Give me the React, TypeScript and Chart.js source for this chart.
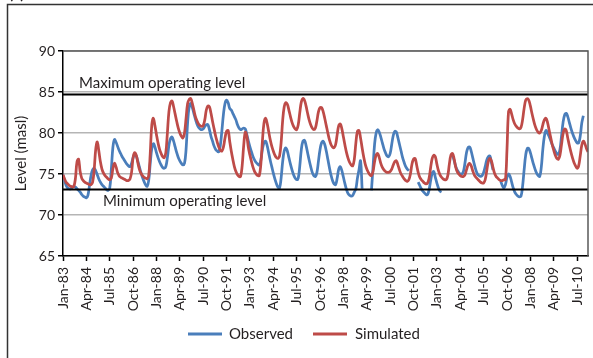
import React, { useEffect, useRef } from "react";
import { Chart, registerables } from "chart.js";

Chart.register(...registerables);

// Tick labels (every 15 months, starting Jan-83)
const xTickLabels = [
  "Jan-83", "Apr-84", "Jul-85", "Oct-86", "Jan-88", "Apr-89", "Jul-90", "Oct-91",
  "Jan-93", "Apr-94", "Jul-95", "Oct-96", "Jan-98", "Apr-99", "Jul-00", "Oct-01",
  "Jan-03", "Apr-04", "Jul-05", "Oct-06", "Jan-08", "Apr-09", "Jul-10",
];
const monthsPerTick = 15;
const yTicks = [65, 70, 75, 80, 85, 90];

const maxOperatingLevel = 84.7;
const minOperatingLevel = 73.2;

// Monthly observed lake level (masl), Jan-83 ... Feb-11 (null = missing)
const observed: (number | null)[] = [
  74.9, 74.2, 73.6, 73.3, 73.2, 73.2, 73.4, 73.5, 73.4, 73.2, 73.0, 72.8,
  72.5, 72.3, 72.2, 72.1, 72.4, 73.6, 74.8, 75.5, 75.7, 75.4, 74.9, 74.4,
  74.0, 73.7, 73.5, 73.3, 73.1, 73.0, 73.3, 75.5, 78.2, 79.2, 78.9, 78.4,
  77.9, 77.5, 77.1, 76.8, 76.5, 76.2, 76.0, 75.9, 76.3, 77.0, 77.4, 77.2,
  76.6, 75.9, 75.2, 74.6, 74.1, 73.7, 73.5, 74.2, 76.3, 78.1, 78.7, 78.3,
  77.6, 77.0, 76.5, 76.1, 75.8, 75.7, 75.9, 77.0, 78.5, 79.3, 79.5, 79.0,
  78.3, 77.6, 77.0, 76.6, 76.3, 76.1, 76.3, 78.0, 81.3, 83.2, 83.6, 83.1,
  82.4, 81.7, 81.1, 80.7, 80.5, 80.4, 80.5, 80.8, 81.0, 81.0, 80.4, 79.6,
  79.0, 78.4, 78.0, 77.8, 77.7, 78.5, 80.3, 82.3, 83.6, 84.0, 83.7, 83.0,
  82.8, 82.4, 82.0, 81.6, 81.0, 80.6, 80.4, 80.5, 80.6, 80.5, 79.8, 79.0,
  78.3, 77.7, 77.1, 76.7, 76.4, 76.2, 76.1, 76.7, 78.0, 78.8, 79.0, 78.5,
  77.6, 76.7, 75.9, 75.1, 74.4, 73.8, 73.4, 73.3, 74.5, 76.5, 77.8, 78.2,
  77.8, 77.0, 76.2, 75.5, 74.9, 74.5, 74.3, 74.5, 76.0, 78.0, 79.0, 79.1,
  78.5, 77.6, 76.7, 75.9, 75.2, 74.8, 74.7, 75.2, 76.6, 78.0, 78.8, 79.0,
  78.6, 77.8, 76.8, 75.8, 74.9, 74.2, 73.8, 73.7, 74.5, 75.6, 75.9, 75.4,
  74.6, 73.8, 73.1, 72.6, 72.4, 72.3, 72.4, 72.8, 73.2, 74.5, 75.5, 76.6,
  73.2, null, null, null, null, null, 73.0, 75.8, 78.6, 80.0, 80.4, 80.1,
  79.5, 78.8, 78.1, 77.6, 77.2, 77.1, 77.5, 78.6, 79.7, 80.2, 80.1, 79.4,
  78.6, 77.8, 77.0, 76.4, 75.9, 75.6, 75.4, null, null, null, null, null,
  74.0, 73.6, 73.2, 72.9, 72.7, 72.5, 72.5, 73.1, 74.2, 75.1, 75.3, 74.6,
  73.9, 73.3, 72.9, 72.8, null, null, null, null, null, null, 77.3, 76.7,
  76.0, 75.5, 75.2, 75.0, 75.0, 75.3, 76.3, 77.6, 78.2, 78.3, 77.8, 77.0,
  76.2, 75.5, 75.0, 74.8, 74.7, 74.8, 75.2, 75.9, 76.7, 77.1, 77.2, 76.4,
  75.5, null, null, null, null, 74.1, 73.6, 73.3, 73.7, 74.6, 75.0, 74.7,
  74.0, 73.3, 72.8, 72.5, 72.3, 72.2, 72.3, 73.5, 75.5, 77.3, 78.1, 78.1,
  77.6, 76.9, 76.2, 75.6, 75.1, 74.8, 74.7, 75.8, 78.0, 79.6, 80.3, 80.0,
  79.6, 79.1, 78.6, 78.2, 77.8, 77.5, 77.4, 78.0, 79.6, 81.3, 82.2, 82.4,
  82.0, 81.3, 80.6, 80.0, 79.5, 79.1, 78.8, 78.8, 79.6, 81.2, 82.1, null,
  null, null,
];

// Monthly simulated lake level (masl), Jan-83 ... Feb-11
const simulated: number[] = [
  74.9, 74.4, 74.0, 73.8, 73.6, 73.5, 73.4, 73.5, 74.5, 76.5, 76.8, 75.3,
  74.5, 74.2, 74.0, 73.9, 73.8, 73.7, 73.7, 74.0, 75.5, 78.0, 78.9, 77.8,
  76.5, 75.6, 75.1, 74.8, 74.6, 74.4, 74.3, 74.5, 75.6, 76.3, 75.9, 75.2,
  74.8, 74.6, 74.5, 74.4, 74.3, 74.2, 74.2, 74.4, 75.2, 77.0, 77.6, 77.3,
  76.4, 75.6, 75.1, 74.8, 74.6, 74.5, 74.4, 74.8, 77.5, 81.0, 81.8, 80.9,
  79.8, 78.8, 78.0, 77.5, 77.1, 77.0, 77.6, 80.0, 82.6, 83.7, 83.9, 83.2,
  82.3, 81.4, 80.6, 80.0, 79.6, 79.4, 80.0, 81.8, 83.6, 84.1, 84.2, 83.6,
  82.8, 82.0, 81.5, 81.1, 80.9, 80.8, 80.9, 81.6, 82.8, 83.3, 83.2, 82.4,
  81.4, 80.5, 79.6, 78.9, 78.3, 77.9, 77.8, 78.3, 79.4, 80.2, 80.3, 79.0,
  77.8, 76.8, 75.9, 75.3, 74.9, 74.7, 74.7, 76.0, 78.5, 80.1, 79.6, 78.2,
  77.3, 76.5, 75.8, 75.3, 75.0, 74.8, 74.8, 76.2, 79.0, 81.2, 81.8, 81.2,
  80.2, 79.2, 78.4, 77.8, 77.3, 77.0, 76.9, 77.2, 78.8, 81.5, 83.2, 83.7,
  83.5, 82.8, 82.0, 81.3, 80.8, 80.5, 80.4, 81.0, 82.5, 83.8, 84.2, 84.0,
  83.3, 82.4, 81.6, 81.0, 80.6, 80.4, 80.6, 81.5, 82.6, 83.1, 83.1, 82.6,
  81.8, 80.9, 80.0, 79.2, 78.6, 78.3, 78.2, 78.6, 79.8, 80.9, 81.1, 80.5,
  79.5, 78.5, 77.6, 76.9, 76.4, 76.1, 76.0, 76.8, 78.8, 80.2, 80.3, 79.4,
  78.2, 77.1, 76.2, 75.6, 75.2, 74.9, 74.8, 75.3, 76.5, 77.3, 77.5, 77.0,
  76.3, 75.8, 75.5, 75.3, 75.2, 75.2, 75.3, 75.6, 76.1, 76.5, 76.6, 76.1,
  75.5, 75.0, 74.7, 74.4, 74.2, 74.1, 74.3, 75.0, 76.2, 76.8, 76.9, 76.1,
  75.2, 74.6, 74.3, 74.1, 73.9, 73.8, 73.9, 74.5, 75.8, 76.9, 77.3, 77.1,
  76.2, 75.4, 74.9, 74.6, 74.4, 74.3, 74.3, 74.8, 76.2, 77.3, 77.5, 76.9,
  75.9, 75.3, 75.0, 74.8, 74.7, 74.7, 74.9, 75.5, 76.1, 76.3, 76.0, 75.4,
  74.9, 74.6, 74.4, 74.2, 74.0, 73.9, 73.9, 74.3, 75.4, 76.5, 76.9, 76.6,
  75.8, 75.1, 74.7, 74.5, 74.3, 74.2, 74.2, 74.3, 74.3, 78.0, 82.6, 82.9,
  82.3, 81.6, 81.1, 80.8, 80.6, 80.5, 80.7, 81.6, 83.0, 84.0, 84.2, 84.0,
  83.3, 82.4, 81.6, 80.9, 80.4, 80.1, 80.0, 80.3, 81.0, 81.6, 81.8, 81.3,
  80.4, 79.5, 78.6, 77.9, 77.3, 76.9, 76.8, 77.3, 78.6, 79.9, 80.5, 80.3,
  79.4, 78.5, 77.7, 77.0, 76.4, 76.0, 75.7, 76.0, 77.2, 78.5, 79.0, 78.7,
  78.1, 77.7,
];

const seriesNames = ["Observed", "Simulated"];
const seriesColors = ["#4a7ebb", "#be4b48"];

const FONT = "Lato, 'Open Sans', sans-serif";

export default function App() {
  const canvasRef = useRef<HTMLCanvasElement>(null);

  useEffect(() => {
    const canvas = canvasRef.current;
    if (!canvas) return;

    const toPoints = (arr: (number | null)[]) => arr.map((v, i) => ({ x: i, y: v }));

    const decorations = {
      id: "decorations",
      afterDatasetsDraw(chart: any) {
        const { ctx, chartArea, scales } = chart;
        const y = scales.y;
        ctx.save();
        // operating level lines
        ctx.strokeStyle = "#000";
        ctx.lineWidth = 2;
        [maxOperatingLevel, minOperatingLevel].forEach((v) => {
          const py = Math.round(y.getPixelForValue(v)) + 0.5;
          ctx.beginPath();
          ctx.moveTo(chartArea.left, py);
          ctx.lineTo(chartArea.right, py);
          ctx.stroke();
        });
        ctx.fillStyle = "#231f20";
        ctx.font = `15px ${FONT}`;
        ctx.textAlign = "left";
        ctx.textBaseline = "alphabetic";
        ctx.fillText("Maximum operating level", 79, y.getPixelForValue(maxOperatingLevel) - 6);
        ctx.fillText("Minimum operating level", 103, y.getPixelForValue(minOperatingLevel) + 17.5);

        // plot frame top/right
        ctx.strokeStyle = "#595959";
        ctx.lineWidth = 1.5;
        ctx.beginPath();
        ctx.moveTo(chartArea.left, chartArea.top);
        ctx.lineTo(chartArea.right, chartArea.top);
        ctx.lineTo(chartArea.right, chartArea.bottom);
        ctx.stroke();

        // y axis title
        ctx.save();
        ctx.translate(21, (chartArea.top + chartArea.bottom) / 2);
        ctx.rotate(-Math.PI / 2);
        ctx.textAlign = "center";
        ctx.textBaseline = "middle";
        ctx.font = `15px ${FONT}`;
        ctx.fillStyle = "#231f20";
        ctx.fillText("Level (masl)", 0, 0);
        ctx.restore();

        // legend
        const legendY = 334;
        const legendItems = [
          { x: 188, textX: 229 },
          { x: 313, textX: 355 },
        ];
        legendItems.forEach((item, i) => {
          ctx.strokeStyle = seriesColors[i];
          ctx.lineWidth = 3;
          ctx.beginPath();
          ctx.moveTo(item.x, legendY);
          ctx.lineTo(item.x + 34, legendY);
          ctx.stroke();
          ctx.fillStyle = "#231f20";
          ctx.font = `15px ${FONT}`;
          ctx.textAlign = "left";
          ctx.textBaseline = "middle";
          ctx.fillText(seriesNames[i], item.textX, legendY);
        });

        // outer frame (top and left visible)
        ctx.strokeStyle = "#333";
        ctx.lineWidth = 1.5;
        ctx.beginPath();
        ctx.moveTo(7.5, 400);
        ctx.lineTo(7.5, 4.5);
        ctx.lineTo(600, 4.5);
        ctx.stroke();

        // panel letter, mostly cut off at the top edge
        ctx.fillStyle = "#231f20";
        ctx.font = `bold 15px ${FONT}`;
        ctx.textAlign = "left";
        ctx.textBaseline = "alphabetic";
        ctx.fillText("(a)", 9, -1);
        ctx.restore();
      },
    };

    const tickFont = { family: FONT, size: 14 };

    const chart = new Chart(canvas, {
      type: "line",
      data: {
        datasets: [
          {
            label: seriesNames[0],
            data: toPoints(observed) as any,
            borderColor: seriesColors[0],
            borderWidth: 2.75,
            pointRadius: 0,
            tension: 0.4,
            spanGaps: false,
            order: 2,
          },
          {
            label: seriesNames[1],
            data: toPoints(simulated) as any,
            borderColor: seriesColors[1],
            borderWidth: 2.75,
            pointRadius: 0,
            tension: 0.4,
            order: 1,
          },
        ],
      },
      options: {
        animation: false,
        responsive: false,
        devicePixelRatio: 1,
        layout: { padding: { top: 51, right: 5, left: 0, bottom: 0 } },
        plugins: {
          legend: { display: false },
          tooltip: { enabled: false },
        },
        scales: {
          x: {
            type: "linear",
            min: 0,
            max: simulated.length - 1,
            afterFit(scale: any) {
              scale.height = 102;
              scale.paddingLeft = 0;
              scale.paddingRight = 0;
            },
            afterBuildTicks(scale: any) {
              scale.ticks = xTickLabels.map((_, i) => ({ value: i * monthsPerTick }));
            },
            ticks: {
              autoSkip: false,
              maxRotation: 90,
              minRotation: 90,
              padding: 6,
              color: "#231f20",
              font: tickFont,
              callback: (v: any) => xTickLabels[Math.round(Number(v) / monthsPerTick)],
            },
            grid: {
              drawOnChartArea: false,
              drawTicks: true,
              tickLength: 5,
              tickColor: "#000",
              tickWidth: 1.5,
            },
            border: { color: "#000", width: 1.5 },
          },
          y: {
            min: 65,
            max: 90,
            afterFit(scale: any) {
              scale.width = 63;
            },
            afterBuildTicks(scale: any) {
              scale.ticks = yTicks.map((v) => ({ value: v }));
            },
            ticks: {
              padding: 3,
              color: "#231f20",
              font: tickFont,
            },
            grid: {
              color: "#b5b5b5",
              lineWidth: 1.5,
              tickLength: 5,
              tickColor: "#000",
              tickWidth: 1.5,
            },
            border: { color: "#000", width: 1.5 },
          },
        },
      },
      plugins: [decorations],
    });

    return () => chart.destroy();
  }, []);

  return (
    <div style={{ position: "absolute", left: 0, top: 0, width: 593, height: 358, background: "#fff" }}>
      <canvas ref={canvasRef} width={593} height={358} style={{ display: "block" }} />
    </div>
  );
}
